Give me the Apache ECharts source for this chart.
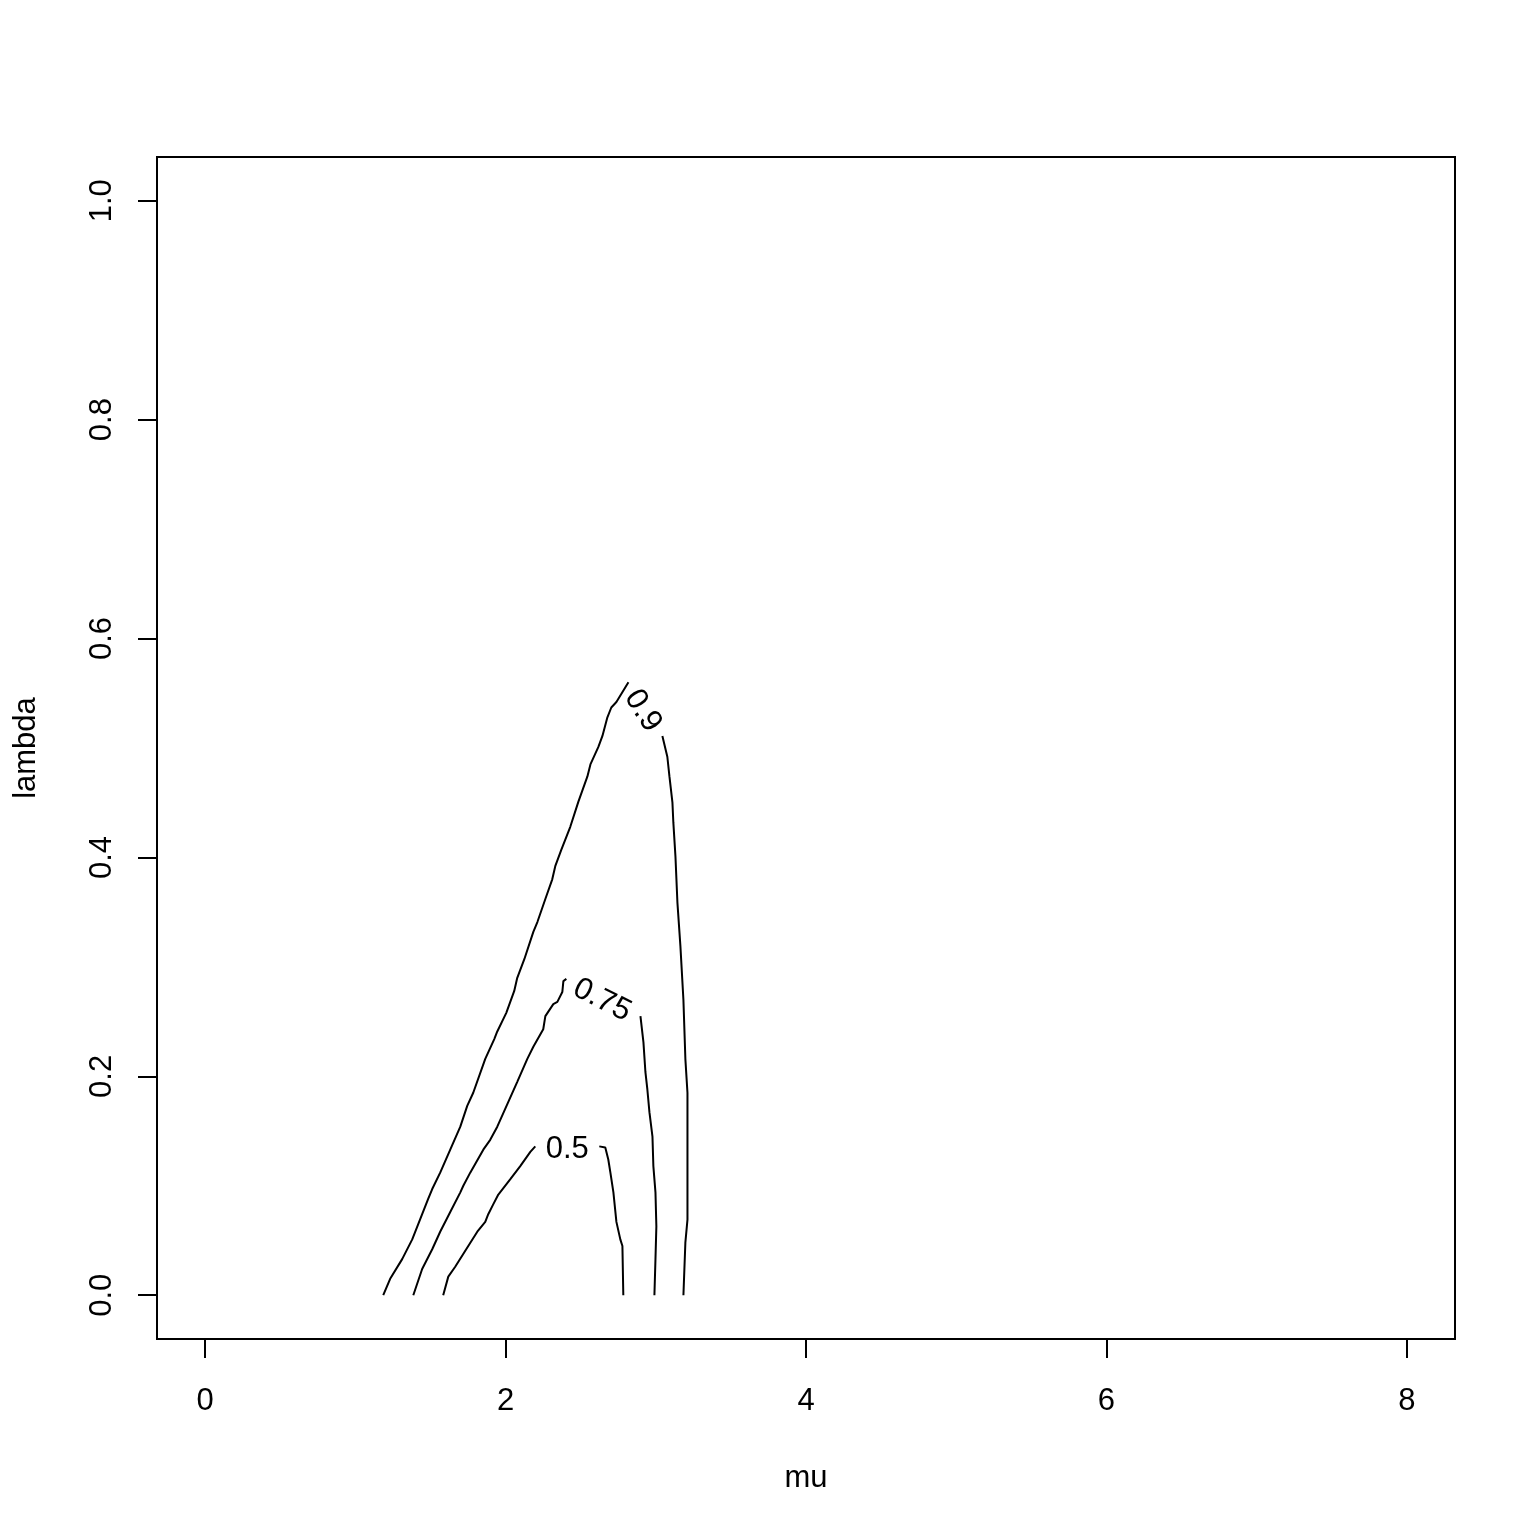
<!DOCTYPE html>
<html><head><meta charset="utf-8">
<script src="https://cdn.jsdelivr.net/npm/echarts@6/dist/echarts.min.js"></script>
<style>html,body{margin:0;padding:0;background:#fff}#c{width:1536px;height:1536px}</style>
</head><body><div id="c"></div>
<script>
// Axis ticks
const xTicks = [0, 2, 4, 6, 8];
const yTicks = [0, 0.2, 0.4, 0.6, 0.8, 1.0];
// Contour levels
const levels = ['0.5', '0.75', '0.9'];
// Contour 0.5 (left branch bottom->top, right branch top->bottom), [mu, lambda]
const c05Left = [[1.585,0],[1.619,0.017],[1.665,0.026],[1.752,0.045],[1.812,0.058],[1.865,0.067],[1.885,0.074],[1.918,0.083],[1.952,0.092],[2.032,0.106],[2.098,0.118],[2.165,0.131],[2.198,0.136]];
const c05Right = [[2.624,0.136],[2.664,0.135],[2.684,0.124],[2.698,0.112],[2.718,0.094],[2.738,0.067],[2.764,0.051],[2.778,0.045],[2.784,0]];
// Contour 0.75
const c075Left = [[1.386,0],[1.445,0.024],[1.512,0.042],[1.565,0.058],[1.632,0.076],[1.699,0.094],[1.719,0.100],[1.765,0.112],[1.852,0.133],[1.898,0.142],[1.945,0.154],[2.078,0.195],[2.145,0.216],[2.185,0.227],[2.251,0.243],[2.265,0.255],[2.318,0.266],[2.345,0.268],[2.378,0.277],[2.385,0.287],[2.405,0.289]];
const c075Right = [[2.898,0.255],[2.918,0.231],[2.931,0.204],[2.944,0.188],[2.958,0.167],[2.978,0.145],[2.984,0.118],[2.998,0.094],[3.004,0.063],[2.998,0.033],[2.991,0]];
// Contour 0.9
const c09Left = [[1.186,0],[1.232,0.015],[1.312,0.033],[1.379,0.051],[1.485,0.088],[1.512,0.097],[1.565,0.112],[1.632,0.133],[1.699,0.154],[1.745,0.173],[1.785,0.185],[1.865,0.216],[1.925,0.234],[1.945,0.241],[2.005,0.258],[2.058,0.278],[2.078,0.290],[2.125,0.307],[2.185,0.332],[2.212,0.341],[2.265,0.362],[2.311,0.380],[2.331,0.392],[2.371,0.407],[2.431,0.428],[2.485,0.451],[2.545,0.474],[2.565,0.485],[2.618,0.501],[2.645,0.511],[2.678,0.528],[2.704,0.537],[2.738,0.542],[2.818,0.560]];
const c09Right = [[3.044,0.511],[3.077,0.492],[3.091,0.474],[3.111,0.450],[3.117,0.432],[3.131,0.401],[3.144,0.359],[3.164,0.319],[3.184,0.270],[3.197,0.216],[3.211,0.185],[3.211,0.154],[3.211,0.069],[3.197,0.048],[3.184,0]];

const FONT = '"Liberation Sans", Arial, Helvetica, sans-serif';
const contours = [
  {level: levels[0], left: c05Left, right: c05Right},
  {level: levels[1], left: c075Left, right: c075Right},
  {level: levels[2], left: c09Left, right: c09Right}
];
const chart = echarts.init(document.getElementById('c'), null, {renderer: 'canvas'});
const lineSeries = [];
contours.forEach(c => {
  [c.left, c.right].forEach(d => lineSeries.push({
    type: 'line', data: d, symbol: 'none', showSymbol: false, silent: true,
    lineStyle: {color: '#000', width: 2}, z: 3
  }));
});
const txt = {color: '#000', fontSize: 31, fontFamily: FONT};
const option = {
  animation: false,
  backgroundColor: '#fff',
  grid: {left: 157, right: 81, top: 157, bottom: 197, show: true, borderColor: '#000', borderWidth: 2, backgroundColor: 'transparent'},
  xAxis: {
    type: 'value', min: -0.32, max: 8.32,
    splitLine: {show: false}, axisLine: {show: false, onZero: false},
    axisTick: {show: true, inside: false, length: 19, lineStyle: {color: '#000', width: 2}, customValues: xTicks},
    axisLabel: Object.assign({customValues: xTicks, margin: 47, formatter: v => String(v)}, txt),
    name: 'mu', nameLocation: 'middle', nameGap: 124, nameTextStyle: txt
  },
  yAxis: {
    type: 'value', min: -0.04, max: 1.04,
    splitLine: {show: false}, axisLine: {show: false, onZero: false},
    axisTick: {show: true, inside: false, length: 19, lineStyle: {color: '#000', width: 2}, customValues: yTicks},
    axisLabel: Object.assign({customValues: yTicks, margin: 39, rotate: 90, formatter: v => v.toFixed(1)}, txt),
    name: 'lambda', nameLocation: 'middle', nameGap: 115, nameTextStyle: txt
  },
  series: lineSeries
};
chart.setOption(option);
// Contour labels placed in the gap of each contour, rotated along the gap
const labelData = contours.map(c => {
  const a = c.left[c.left.length - 1], b = c.right[0];
  const pa = chart.convertToPixel({gridIndex: 0}, a);
  const pb = chart.convertToPixel({gridIndex: 0}, b);
  const ang = Math.atan2(pb[1] - pa[1], pb[0] - pa[0]) * 180 / Math.PI;
  return {value: [(a[0] + b[0]) / 2, (a[1] + b[1]) / 2], name: c.level, label: {rotate: -ang}};
});
chart.setOption({series: lineSeries.concat([{
  type: 'scatter', data: labelData, symbolSize: 0, silent: true, z: 4,
  itemStyle: {opacity: 1},
  label: Object.assign({show: true, formatter: '{b}', position: 'inside', offset: [0, 3], opacity: 1}, txt)
}])});
</script></body></html>
